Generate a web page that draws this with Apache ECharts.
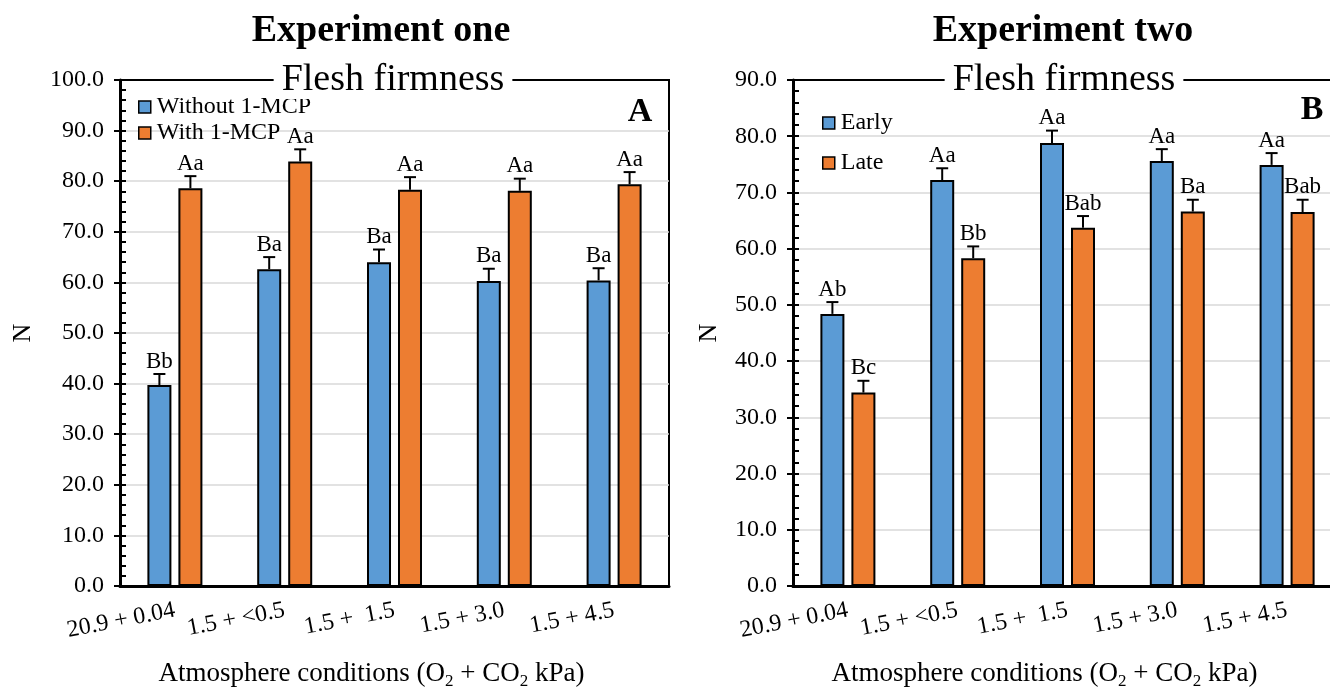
<!DOCTYPE html>
<html>
<head>
<meta charset="utf-8">
<style>
  html, body { margin: 0; padding: 0; background: #fff; }
  #chart { width: 1330px; height: 688px; }
</style>
<script src="https://cdn.jsdelivr.net/npm/echarts@6/dist/echarts.min.js"></script>
</head>
<body>
<div id="chart"></div>
<script>
const categories = ["20.9 + 0.04", "1.5 + <0.5", "1.5 +  1.5", "1.5 + 3.0", "1.5 + 4.5"];

// Experiment one
const withoutMcp = [39.7, 62.6, 64.0, 60.3, 60.4];
const withoutMcpErr = [2.2, 2.4, 2.5, 2.4, 2.4];
const withoutMcpLetters = ["Bb", "Ba", "Ba", "Ba", "Ba"];
const withMcp = [78.6, 83.9, 78.3, 78.1, 79.4];
const withMcpErr = [2.4, 2.4, 2.5, 2.4, 2.4];
const withMcpLetters = ["Aa", "Aa", "Aa", "Aa", "Aa"];

// Experiment two
const early = [48.4, 72.2, 78.8, 75.6, 74.9];
const earlyErr = [2.1, 2.1, 2.2, 2.1, 2.1];
const earlyLetters = ["Ab", "Aa", "Aa", "Aa", "Aa"];
const late = [34.4, 58.3, 63.7, 66.6, 66.5];
const lateErr = [2.1, 2.1, 2.1, 2.1, 2.2];
const lateLetters = ["Bc", "Bb", "Bab", "Ba", "Bab"];

const FONT = "'Times New Roman', 'Liberation Serif', serif";
const BLUE = "#5B9BD5";
const ORANGE = "#ED7D31";
const BAR_W = 24;
const BAR_GAP = 7;
const OFF = (BAR_W + BAR_GAP) / 2;

const chart = echarts.init(document.getElementById("chart"));

function errorSeries(vals, errs, letters, offset, xi, yi) {
  return {
    type: "custom",
    xAxisIndex: xi,
    yAxisIndex: yi,
    z: 5,
    silent: true,
    data: vals.map((v, i) => [i, v, errs[i]]),
    renderItem(params, api) {
      const i = api.value(0);
      const top = api.coord([i, api.value(1)]);
      const cap = api.coord([i, api.value(1) + api.value(2)]);
      const x = top[0] + offset;
      return {
        type: "group",
        children: [
          { type: "line", shape: { x1: x, y1: top[1], x2: x, y2: cap[1] }, style: { stroke: "#000", lineWidth: 2 } },
          { type: "line", shape: { x1: x - 6, y1: cap[1], x2: x + 6, y2: cap[1] }, style: { stroke: "#000", lineWidth: 2 } },
          {
            type: "text",
            style: {
              text: letters[params.dataIndex], x: x, y: cap[1] - 1,
              align: "center", verticalAlign: "bottom",
              fontFamily: FONT, fontSize: 23, fill: "#000",
            },
          },
        ],
      };
    },
  };
}

function barSeries(name, vals, color, xi, yi) {
  return {
    name, type: "bar", xAxisIndex: xi, yAxisIndex: yi,
    data: vals, barWidth: BAR_W, barGap: (BAR_GAP / BAR_W * 100) + "%",
    itemStyle: { color, borderColor: "#000", borderWidth: 2 },
    emphasis: { disabled: true },
  };
}

function xAxis(gi) {
  return {
    type: "category", gridIndex: gi, data: categories, position: "bottom",
    axisLine: { lineStyle: { color: "#000", width: 3 } },
    axisTick: { length: 6, lineStyle: { color: "#000", width: 2 } },
    axisLabel: { interval: 0, rotate: 11, margin: 24, fontFamily: FONT, fontSize: 24, color: "#000" },
    name: "Atmosphere conditions (O{s|2} + CO{s|2} kPa)",
    nameLocation: "middle", nameGap: 72,
    nameTextStyle: {
      fontFamily: FONT, fontSize: 27, color: "#000", padding: [0, 46, 0, 0],
      lineHeight: 32, verticalAlign: "top",
      rich: { s: { fontFamily: FONT, fontSize: 17, color: "#000", verticalAlign: "bottom", lineHeight: 32 } },
    },
  };
}

function yAxes(gi, max, nameGap) {
  const base = { type: "value", gridIndex: gi, position: "left", min: 0, max, interval: 10 };
  return [
    Object.assign({}, base, {
      axisLine: { show: true, lineStyle: { color: "#000", width: 3 } },
      axisTick: { show: true, length: 6, lineStyle: { color: "#000", width: 2 } },
      axisLabel: { margin: 16, fontFamily: FONT, fontSize: 24, color: "#000", formatter: v => v.toFixed(1) },
      splitLine: { showMaxLine: false, showMinLine: false, lineStyle: { color: "#d9d9d9", width: 1.5 } },
      name: "N", nameLocation: "middle", nameGap,
      nameTextStyle: { fontFamily: FONT, fontSize: 26, color: "#000" },
    }),
    Object.assign({}, base, {
      axisLine: { show: false },
      axisTick: { show: true, inside: true, length: 6, lineStyle: { color: "#000", width: 2 } },
      minorTick: { show: true, splitNumber: 5, length: 6, lineStyle: { color: "#000", width: 2 } },
      axisLabel: { show: false },
      splitLine: { show: false },
    }),
  ];
}

function legend(names, left, top, gap) {
  return {
    data: names, left, top, orient: "vertical", itemGap: gap,
    icon: "rect", itemWidth: 12, itemHeight: 12, selectedMode: false,
    itemStyle: { borderColor: "#000", borderWidth: 1.5 },
    textStyle: { fontFamily: FONT, fontSize: 24, lineHeight: 23, color: "#000", padding: [0, 0, 0, 1] },
  };
}

function bigTitle(text, x, y, size, bold, bg) {
  return {
    text, left: x, top: y, textAlign: "center", padding: bg ? [0, 8] : 0,
    backgroundColor: bg ? "#fff" : "transparent", z: 10,
    textStyle: { fontFamily: FONT, fontSize: size, fontWeight: bold ? "bold" : "normal", color: "#000" },
  };
}

chart.setOption({
  animation: false,
  title: [
    bigTitle("Experiment one", 381, 12, 38, true),
    bigTitle("Experiment two", 1063, 12, 38, true),
    bigTitle("Flesh firmness", 385, 61, 38, false, true),
    bigTitle("Flesh firmness", 1056, 61, 38, false, true),
    bigTitle("A", 640, 95, 34, true),
    bigTitle("B", 1312, 93, 34, true),
  ],
  legend: [
    legend(["Without 1-MCP", "With 1-MCP"], 133, 90, 2),
    legend(["Early", "Late"], 817, 106, 16),
  ],
  grid: [
    { left: 120, top: 80, width: 549, height: 506, outerBoundsMode: "none", show: true, borderColor: "#000", borderWidth: 2 },
    { left: 793, top: 80, width: 549, height: 506, outerBoundsMode: "none", show: true, borderColor: "#000", borderWidth: 2 },
  ],
  xAxis: [xAxis(0), xAxis(1)],
  yAxis: [...yAxes(0, 100, 84), ...yAxes(1, 90, 71)],
  series: [
    barSeries("Without 1-MCP", withoutMcp, BLUE, 0, 0),
    barSeries("With 1-MCP", withMcp, ORANGE, 0, 0),
    errorSeries(withoutMcp, withoutMcpErr, withoutMcpLetters, -OFF, 0, 0),
    errorSeries(withMcp, withMcpErr, withMcpLetters, OFF, 0, 0),
    barSeries("Early", early, BLUE, 1, 2),
    barSeries("Late", late, ORANGE, 1, 2),
    errorSeries(early, earlyErr, earlyLetters, -OFF, 1, 2),
    errorSeries(late, lateErr, lateLetters, OFF, 1, 2),
  ],
});
</script>
</body>
</html>
